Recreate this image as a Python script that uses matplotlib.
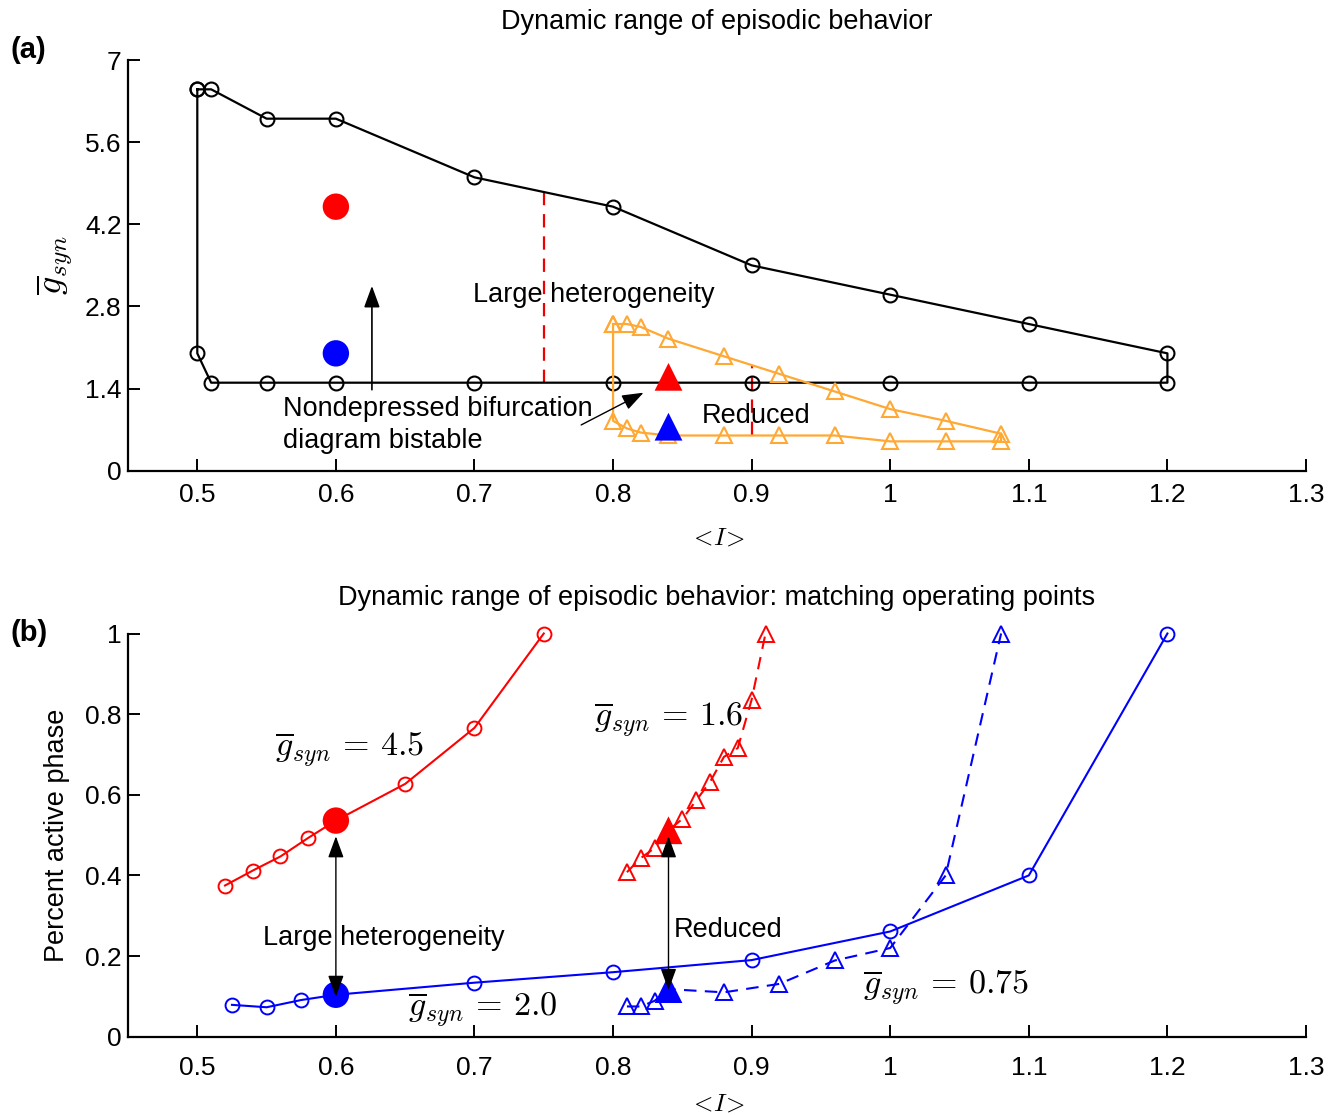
import matplotlib
matplotlib.use("Agg")
import matplotlib.pyplot as plt

plt.rcParams['font.family'] = ['Liberation Sans', 'DejaVu Sans']
plt.rcParams['mathtext.fontset'] = 'cm'

# ---------------- data: panel (a) ----------------
# boundary of episodic region (full model), upper and lower branches
upper_I = [0.5, 0.51, 0.55, 0.6, 0.7, 0.8, 0.9, 1.0, 1.1, 1.2]
upper_g = [6.5, 6.5, 6.0, 6.0, 5.0, 4.5, 3.5, 3.0, 2.5, 2.0]
lower_I = [1.2, 1.1, 1.0, 0.9, 0.8, 0.7, 0.6, 0.55, 0.51, 0.5]
lower_g = [1.5, 1.5, 1.5, 1.5, 1.5, 1.5, 1.5, 1.5, 1.5, 2.0]

# boundary of episodic region (reduced heterogeneity)
red_up_I = [0.8, 0.81, 0.82, 0.84, 0.88, 0.92, 0.96, 1.0, 1.04, 1.08]
red_up_g = [2.5, 2.5, 2.45, 2.25, 1.95, 1.65, 1.35, 1.05, 0.85, 0.63]
red_lo_I = [1.08, 1.04, 1.0, 0.96, 0.92, 0.88, 0.84, 0.82, 0.81, 0.8]
red_lo_g = [0.5, 0.5, 0.5, 0.6, 0.6, 0.6, 0.6, 0.65, 0.72, 0.85]

# operating points
op_circ_I = [0.6, 0.6]
op_circ_g = [4.5, 2.0]
op_tri_I = [0.84, 0.84]
op_tri_g = [1.6, 0.75]

# dashed red lines (heterogeneity spans)
het_large_I = [0.75, 0.75]
het_large_g = [1.5, 4.75]
het_red_I = [0.9, 0.9]
het_red_g = [0.6, 1.8]

# ---------------- data: panel (b) ----------------
g45_I = [0.52, 0.54, 0.56, 0.58, 0.6, 0.65, 0.7, 0.75]
g45_p = [0.375, 0.412, 0.447, 0.493, 0.536, 0.627, 0.766, 1.0]
g20_I = [0.525, 0.55, 0.575, 0.6, 0.7, 0.8, 0.9, 1.0, 1.1, 1.2]
g20_p = [0.079, 0.073, 0.091, 0.104, 0.134, 0.16, 0.19, 0.261, 0.40, 1.0]
g16_I = [0.81, 0.82, 0.83, 0.84, 0.85, 0.86, 0.87, 0.88, 0.89, 0.9, 0.91]
g16_p = [0.408, 0.443, 0.468, 0.512, 0.54, 0.586, 0.632, 0.694, 0.716, 0.836, 1.0]
g075_I = [0.81, 0.82, 0.83, 0.84, 0.88, 0.92, 0.96, 1.0, 1.04, 1.08]
g075_p = [0.075, 0.075, 0.089, 0.118, 0.11, 0.131, 0.189, 0.22, 0.40, 1.0]

opb_circ_I = [0.6, 0.6]
opb_circ_p = [0.536, 0.104]
opb_tri_I = [0.84, 0.84]
opb_tri_p = [0.512, 0.118]

x_ticks = [0.5, 0.6, 0.7, 0.8, 0.9, 1.0, 1.1, 1.2, 1.3]
x_ticklabels = ['0.5', '0.6', '0.7', '0.8', '0.9', '1', '1.1', '1.2', '1.3']
ya_ticks = [0, 1.4, 2.8, 4.2, 5.6, 7]
ya_ticklabels = ['0', '1.4', '2.8', '4.2', '5.6', '7']
yb_ticks = [0, 0.2, 0.4, 0.6, 0.8, 1.0]
yb_ticklabels = ['0', '0.2', '0.4', '0.6', '0.8', '1']

# ---------------- styling ----------------
W, H = 1340, 1115
fig = plt.figure(figsize=(W / 100, H / 100), dpi=100)
ORANGE = '#FFA833'
TKFS = 19      # tick labels
TFS = 19.5     # annotations / labels / titles
MFS = 24.5     # math annotations

ax_a = fig.add_axes([128 / W, 1 - 470.7 / H, 1178 / W, 410.7 / H])
ax_b = fig.add_axes([128 / W, 1 - 1036.7 / H, 1178 / W, 403.2 / H])


def style(ax, xpad):
    for s in ('top', 'right'):
        ax.spines[s].set_visible(False)
    for s in ('left', 'bottom'):
        ax.spines[s].set_linewidth(1.6)
    ax.tick_params(direction='in', length=8.5, width=1.4, labelsize=TKFS)
    ax.tick_params(axis='x', pad=xpad)
    ax.tick_params(axis='y', pad=4.5)
    ax.set_xlim(0.45, 1.3)
    ax.set_xticks(x_ticks)
    ax.set_xticklabels(x_ticklabels)


style(ax_a, 8.5)
style(ax_b, 14)

ARROW1 = '-|>,head_length=0.6,head_width=0.22'
ARROW2 = '<|-|>,head_length=0.6,head_width=0.22'

# ---------- panel (a) ----------
ax = ax_a
loop_I = upper_I + lower_I + [upper_I[0]]
loop_g = upper_g + lower_g + [upper_g[0]]
ax.plot(loop_I, loop_g, '-', color='black', lw=1.6, marker='o', ms=10,
        mfc='none', mec='black', mew=1.5, zorder=2)
rloop_I = red_up_I + red_lo_I + [red_up_I[0]]
rloop_g = red_up_g + red_lo_g + [red_up_g[0]]
ax.plot(rloop_I, rloop_g, '-', color=ORANGE, lw=1.6, marker='^', ms=11,
        mfc='none', mec=ORANGE, mew=1.5, zorder=2)
ax.plot(het_large_I, het_large_g, color='#EE0000', lw=1.6,
        linestyle=(0, (6, 4)), zorder=1.5)
ax.plot(het_red_I, het_red_g, color='#EE0000', lw=1.6,
        linestyle=(0, (6, 4)), zorder=1.5)
ax.scatter(op_circ_I, op_circ_g, s=19 ** 2, c=['#FF0000', '#0000FF'],
           marker='o', linewidths=0, zorder=4)
ax.scatter(op_tri_I, op_tri_g, s=20 ** 2, c=['#FF0000', '#0000FF'],
           marker='^', linewidths=0, zorder=4)
ax.set_ylim(0, 7)
ax.set_yticks(ya_ticks)
ax.set_yticklabels(ya_ticklabels)

ax.annotate('', xy=(0.626, 3.15), xytext=(0.626, 1.38),
            arrowprops=dict(arrowstyle=ARROW1, color='black', lw=1.2,
                            mutation_scale=22, shrinkA=0, shrinkB=0), zorder=5)
ax.annotate('', xy=(0.822, 1.33), xytext=(0.777, 0.78),
            arrowprops=dict(arrowstyle=ARROW1, color='black', lw=1.0,
                            mutation_scale=22, shrinkA=0, shrinkB=0), zorder=5)
ax.text(0.562, 0.78, 'Nondepressed bifurcation\ndiagram bistable',
        fontsize=TFS, ha='left', va='center', linespacing=1.32)
ax.text(0.699, 3.0, 'Large heterogeneity', fontsize=TFS, ha='left', va='center')
ax.text(0.864, 0.93, 'Reduced', fontsize=TFS, ha='left', va='center')

ax.set_ylabel(r'$\overline{g}_{syn}$', fontsize=26)
ax.yaxis.set_label_coords(-0.062, 0.5)
ax.yaxis.label.set_va('center')
ax.set_xlabel(r'$<\!I\!>$', fontsize=18)
ax.xaxis.set_label_coords(0.5, -0.162)
ax.xaxis.label.set_va('center')
ax.text(0.5, 1.092, 'Dynamic range of episodic behavior', transform=ax.transAxes,
        ha='center', va='center', fontsize=TFS)

# ---------- panel (b) ----------
ax = ax_b
dash = (0, (6, 4))
ax.plot(g45_I, g45_p, '-', color='#FF0000', lw=1.5, marker='o', ms=10,
        mfc='none', mec='#FF0000', mew=1.4, zorder=2, clip_on=False)
ax.plot(g20_I, g20_p, '-', color='#0000FF', lw=1.5, marker='o', ms=10,
        mfc='none', mec='#0000FF', mew=1.4, zorder=2, clip_on=False)
ax.plot(g16_I, g16_p, color='#FF0000', lw=1.5, linestyle=dash, marker='^', ms=11,
        mfc='none', mec='#FF0000', mew=1.4, zorder=2, clip_on=False)
ax.plot(g075_I, g075_p, color='#0000FF', lw=1.5, linestyle=dash, marker='^', ms=11,
        mfc='none', mec='#0000FF', mew=1.4, zorder=2, clip_on=False)
ax.scatter(opb_circ_I, opb_circ_p, s=19 ** 2, c=['#FF0000', '#0000FF'],
           marker='o', linewidths=0, zorder=4)
ax.scatter(opb_tri_I, opb_tri_p, s=20 ** 2, c=['#FF0000', '#0000FF'],
           marker='^', linewidths=0, zorder=4)
ax.set_ylim(0, 1)
ax.set_yticks(yb_ticks)
ax.set_yticklabels(yb_ticklabels)

for xi, top, bot in [(0.6, 0.497, 0.099), (0.84, 0.497, 0.116)]:
    ax.annotate('', xy=(xi, bot), xytext=(xi, top),
                arrowprops=dict(arrowstyle=ARROW2, color='black', lw=1.0,
                                mutation_scale=22, shrinkA=0, shrinkB=0), zorder=5)

ax.text(0.556, 0.712, r'$\overline{g}_{syn}\,=\,4.5$', fontsize=MFS, ha='left', va='center')
ax.text(0.786, 0.786, r'$\overline{g}_{syn}\,=\,1.6$', fontsize=MFS, ha='left', va='center')
ax.text(0.652, 0.066, r'$\overline{g}_{syn}\,=\,2.0$', fontsize=MFS, ha='left', va='center')
ax.text(0.980, 0.12, r'$\overline{g}_{syn}\,=\,0.75$', fontsize=MFS, ha='left', va='center')
ax.text(0.5476, 0.244, 'Large heterogeneity', fontsize=TFS, ha='left', va='center')
ax.text(0.8437, 0.265, 'Reduced', fontsize=TFS, ha='left', va='center')

ax.set_ylabel('Percent active phase', fontsize=TFS)
ax.yaxis.set_label_coords(-0.060, 0.5)
ax.yaxis.label.set_va('center')
ax.set_xlabel(r'$<\!I\!>$', fontsize=18)
ax.xaxis.set_label_coords(0.5, -0.165)
ax.xaxis.label.set_va('center')
ax.text(0.5, 1.089, 'Dynamic range of episodic behavior: matching operating points',
        transform=ax.transAxes, ha='center', va='center', fontsize=TFS)

fig.text(10 / W, 1 - 50 / H, '(a)', fontsize=21, fontweight='bold', ha='left', va='center')
fig.text(10 / W, 1 - 633 / H, '(b)', fontsize=21, fontweight='bold', ha='left', va='center')

fig.savefig('out.png', dpi=100)
